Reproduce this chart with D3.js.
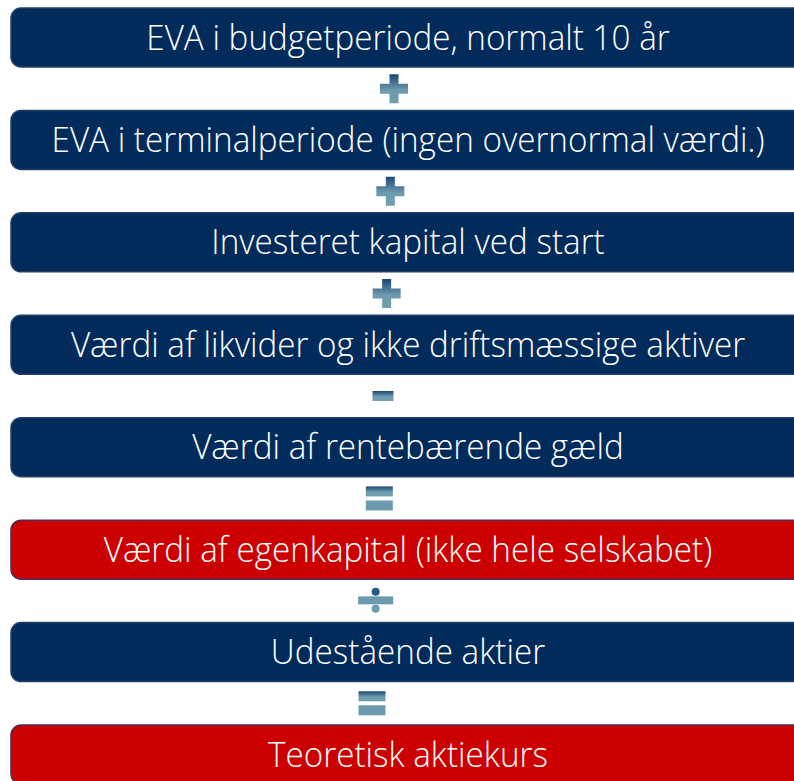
<!DOCTYPE html>
<html>
<head>
<meta charset="utf-8">
<script src="https://cdn.jsdelivr.net/npm/d3@7"></script>
<style>
  body { margin: 0; background: #fff; overflow: hidden; }
  svg { display: block; }
</style>
</head>
<body>
<div id="chart"></div>
<script>
// steps in the valuation chain, top to bottom
var labels = [
  "EVA i budgetperiode, normalt 10 år",
  "EVA i terminalperiode (ingen overnormal værdi.)",
  "Investeret kapital ved start",
  "Værdi af likvider og ikke driftsmæssige aktiver",
  "Værdi af rentebærende gæld",
  "Værdi af egenkapital (ikke hele selskabet)",
  "Udestående aktier",
  "Teoretisk aktiekurs"
];
var kinds = ["input", "input", "input", "input", "input", "result", "input", "result"];
// operator between step i and step i+1
var operators = ["+", "+", "+", "-", "=", "÷", "="];

var width = 794, height = 781;

var svg = d3.select("#chart")
  .append("svg")
    .attr("width", width)
    .attr("height", height);

var defs = svg.append("defs");
var grad = defs.append("linearGradient")
  .attr("id", "opGrad")
  .attr("x1", 0).attr("y1", 0).attr("x2", 0).attr("y2", 1);
grad.append("stop").attr("offset", "0%").attr("stop-color", "#1b4674");
grad.append("stop").attr("offset", "55%").attr("stop-color", "#6c9aae");
grad.append("stop").attr("offset", "100%").attr("stop-color", "#72a0b0");

var idx = d3.range(labels.length);

// vertical position of each box
var y = d3.scaleLinear()
  .domain([0, labels.length - 1])
  .range([8, 725]);
var boxH = 59;

// operators drift slightly left going down
var opX = d3.scaleLinear()
  .domain([0, operators.length - 1])
  .range([394, 372]);

var fill = { input: "#012b5b", result: "#cc0000" };
var edge = { input: "#233f63", result: "#4f2a55" };

var boxes = svg.selectAll("g.step")
  .data(idx)
  .join("g")
    .attr("class", "step");

boxes.append("rect")
  .attr("x", 11)
  .attr("y", d => y(d))
  .attr("width", 800)
  .attr("height", boxH)
  .attr("rx", 10)
  .attr("fill", d => fill[kinds[d]])
  .attr("stroke", d => edge[kinds[d]])
  .attr("stroke-width", 1.5);

// labels: a slightly condensed, light sans
boxes.append("text")
  .attr("transform", d => "translate(408," + (y(d) + boxH / 2 + 12) + ") scale(0.95,1)")
  .attr("text-anchor", "middle")
  .attr("fill", "#fff")
  .style("font-family", "'Open Sans', sans-serif")
  .style("font-weight", 300)
  .style("font-size", "35px")
  .text(d => labels[d]);

// operator glyphs drawn as shapes
var ops = svg.selectAll("g.op")
  .data(operators)
  .join("g")
    .attr("class", "op")
    .attr("transform", (d, i) => {
      var cy = (y(i) + boxH + y(i + 1)) / 2;
      return "translate(" + opX(i) + "," + cy + ")";
    });

ops.each(function(op) {
  var g = d3.select(this);
  if (op === "+") {
    g.append("path")
      .attr("d", "M-4.5,-14.5H4.5V-5H14V5H4.5V14.5H-4.5V5H-14V-5H-4.5Z")
      .attr("fill", "url(#opGrad)");
  } else if (op === "-") {
    g.append("rect").attr("x", -10.5).attr("y", -5).attr("width", 21).attr("height", 10)
      .attr("fill", "url(#opGrad)");
  } else if (op === "=") {
    g.append("rect").attr("x", -13.5).attr("y", -12).attr("width", 27).attr("height", 10)
      .attr("fill", "url(#opGrad)");
    g.append("rect").attr("x", -13.5).attr("y", 2).attr("width", 27).attr("height", 10)
      .attr("fill", "#6c9aae");
  } else if (op === "÷") {
    g.append("circle").attr("cx", 0).attr("cy", -9).attr("r", 4).attr("fill", "#2a5a85");
    g.append("rect").attr("x", -17.5).attr("y", -4.5).attr("width", 35).attr("height", 8)
      .attr("fill", "#6c9aae");
    g.append("circle").attr("cx", 0).attr("cy", 8).attr("r", 4).attr("fill", "#6c9aae");
  }
});
</script>
</body>
</html>
